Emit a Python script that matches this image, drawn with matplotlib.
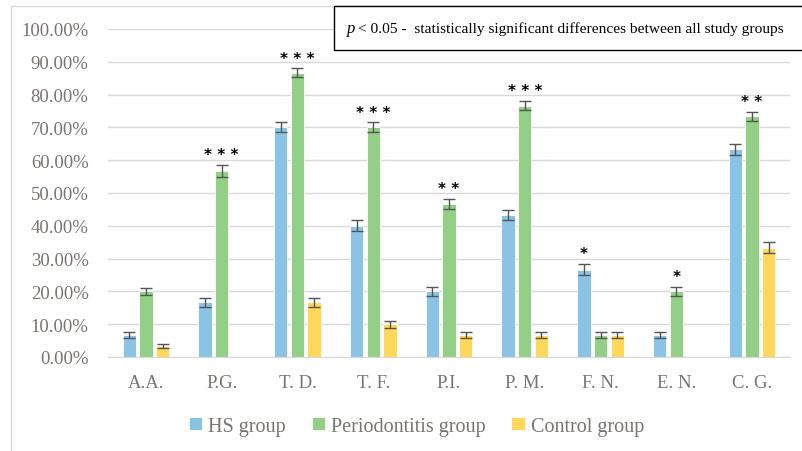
import numpy as np
import matplotlib.pyplot as plt
from matplotlib.patches import Rectangle

plt.rcParams["font.family"] = ["Liberation Serif", "DejaVu Serif"]

# data (percent of patients)
categories = ["A.A.", "P.G.", "T. D.", "T. F.", "P.I.", "P. M.", "F. N.", "E. N.", "C. G."]
hs_vals = [6.67, 16.67, 70.00, 40.00, 20.00, 43.33, 26.67, 6.67, 63.33]
perio_vals = [20.00, 56.67, 86.67, 70.00, 46.67, 76.67, 6.67, 20.00, 73.33]
control_vals = [3.33, 0.00, 16.67, 10.00, 6.67, 6.67, 6.67, 0.00, 33.33]
hs_err = [0.8, 1.3, 1.5, 1.7, 1.4, 1.6, 1.6, 0.9, 1.7]
perio_err = [1.1, 1.9, 1.3, 1.5, 1.6, 1.5, 0.9, 1.4, 1.5]
control_err = [0.7, 0.0, 1.3, 1.1, 0.9, 0.9, 0.9, 0.0, 1.7]
# significance stars: (category index, group, label)
stars = [(1, 1, "* * *"), (2, 1, "* * *"), (3, 1, "* * *"), (4, 1, "* *"),
         (5, 1, "* * *"), (6, 0, "*"), (7, 1, "*"), (8, 1, "* *")]
group_names = ["HS group", "Periodontitis group", "Control group"]
colors = ["#8bc3e5", "#93cf86", "#ffd75a"]

txt_color = "#7a7470"

fig = plt.figure(figsize=(8.02, 4.52), dpi=100)
ax = fig.add_axes([108 / 802, 1 - 358 / 452, 682 / 802, 328 / 452])

x = np.arange(len(categories))
w = 0.176
step = 0.22
series = [(hs_vals, hs_err), (perio_vals, perio_err), (control_vals, control_err)]
for i, (vals, errs) in enumerate(series):
    v = np.array(vals) / 100
    e = np.array(errs) / 100
    pos = x + (i - 1) * step
    ax.bar(pos, v, w, color=colors[i], edgecolor="white", linewidth=0.6,
           label=group_names[i], zorder=2)
    mask = v > 0
    ax.errorbar(pos[mask], v[mask], yerr=e[mask], fmt="none", ecolor="#555555",
                elinewidth=1.0, capsize=4, capthick=1.0, zorder=3)

for ci, g, lab in stars:
    vals, errs = series[g]
    top = (vals[ci] + errs[ci]) / 100
    ax.annotate(lab, (ci + (g - 1) * step, top), xytext=(0, 2),
                textcoords="offset points", ha="center", va="bottom",
                fontsize=11, fontweight="bold", color="black",
                family="DejaVu Sans")

ax.set_xlim(-0.5, len(categories) - 0.5)
ax.set_ylim(0, 1.0)
ax.set_yticks(np.arange(0, 1.01, 0.1))
ax.set_yticklabels([f"{t * 100:.2f}%" for t in np.arange(0, 1.01, 0.1)])
ax.set_xticks(x)
ax.set_xticklabels(categories)
ax.yaxis.grid(True, color="#d9d9d9", linewidth=1.0, zorder=0)
ax.set_axisbelow(True)
for s in ["top", "right", "left"]:
    ax.spines[s].set_visible(False)
ax.spines["bottom"].set_color("#d9d9d9")
ax.tick_params(axis="both", length=0, labelcolor=txt_color, labelsize=13.5)
ax.tick_params(axis="x", pad=12)
ax.tick_params(axis="y", pad=14)

leg = fig.legend(loc="center", bbox_to_anchor=(0.519, 0.055), ncol=3, frameon=False,
                 handlelength=0.65, handleheight=0.65, handletextpad=0.3,
                 columnspacing=1.3, fontsize=14.5)
for t in leg.get_texts():
    t.set_color(txt_color)

# outer chart frame
fig.add_artist(Rectangle((11 / 802, -0.05), 1.0, 1 - 7 / 452 + 0.05,
                         transform=fig.transFigure, fill=False,
                         edgecolor="#d9d9d9", linewidth=1.0))

# note box
fig.add_artist(Rectangle((334 / 802, 1 - 51 / 452), 0.6, 44 / 452,
                         transform=fig.transFigure, facecolor="white",
                         edgecolor="black", linewidth=1.0, zorder=5))
fig.text(347 / 802, 1 - 29 / 452, "p", fontsize=12, style="italic",
         va="center", ha="left", zorder=6)
fig.text(358 / 802, 1 - 29 / 452,
         "< 0.05 -  statistically significant differences between all study groups",
         fontsize=11.1, va="center", ha="left", zorder=6)

fig.savefig("out.png", dpi=100)
